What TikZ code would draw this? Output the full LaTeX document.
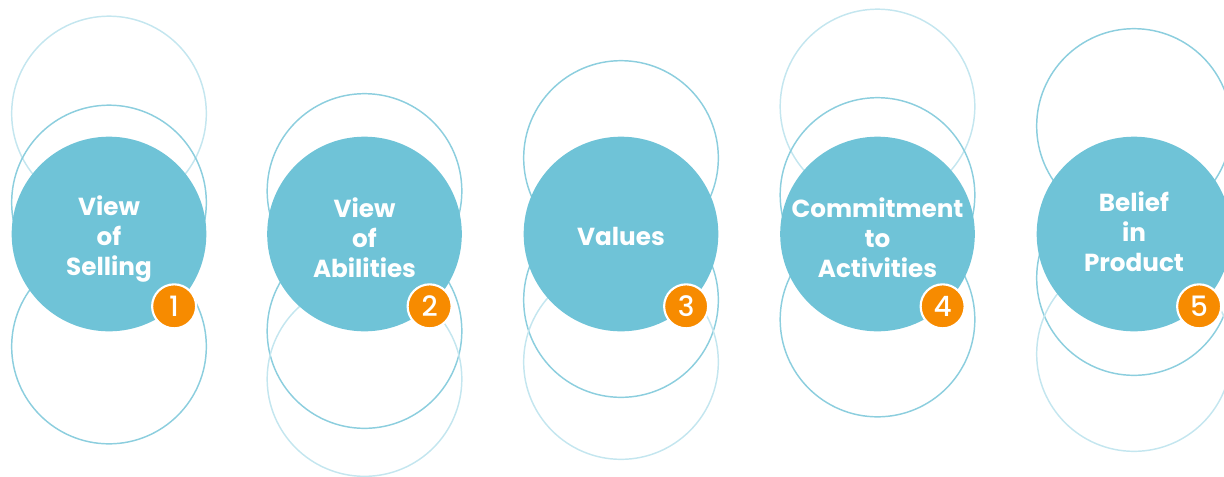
\documentclass[tikz,border=0pt]{standalone}
\usepackage{fontspec}
\setmainfont{Poppins}
\newfontfamily\badgefont{Poppins}[UprightFont=* Medium]
\usepackage{tikz}
\usetikzlibrary{positioning}

\definecolor{tealfill}{HTML}{6FC3D7}
\definecolor{ringdark}{HTML}{8CCEDE}
\definecolor{ringlight}{HTML}{C4E6EF}
\definecolor{badgeorange}{HTML}{F78B00}

\begin{document}
\begin{tikzpicture}[x=0.75pt, y=-0.75pt]
	\tikzset{
	  RingStyle/.style = { circle, draw, line width = 1.1pt, minimum size = 146pt, inner sep = 0pt },
	  RingDark/.style = { RingStyle, draw = ringdark },
	  RingLight/.style = { RingStyle, draw = ringlight },
	  MainStyle/.style = { circle, fill = tealfill, minimum size = 146pt, inner sep = 0pt,
	                       outer sep = 0pt },
	  LabelStyle/.style = { text = white, align = center, inner sep = 0pt,
	                        font = \fontsize{18.5}{22.5}\selectfont\bfseries },
	  BadgeStyle/.style = { circle, fill = badgeorange, draw = white, line width = 1.6pt,
	                        minimum size = 33pt, inner sep = 0pt, text = white,
	                        font = \fontsize{21}{22}\selectfont\badgefont } }
	\useasboundingbox (0,0) rectangle (1224,476);
%	\draw[help lines] (0,0) grid (1224,476);
	% outline rings
	\node[RingLight] (r1a) at (109,113.5) {};
	\node[RingDark]  (r1b) at (109,202.5) {};
	\node[RingDark]  (r1c) at (109,346.5) {};
	\node[RingDark]  (r2a) at (364.5,191) {};
	\node[RingDark]  (r2b) at (364.5,331) {};
	\node[RingLight] (r2c) at (364.5,379) {};
	\node[RingDark]  (r3a) at (621,158) {};
	\node[RingDark]  (r3b) at (621,300) {};
	\node[RingLight] (r3c) at (621,362) {};
	\node[RingLight] (r4a) at (877.5,106.5) {};
	\node[RingDark]  (r4b) at (877.5,195) {};
	\node[RingDark]  (r4c) at (877.5,319.5) {};
	\node[RingDark]  (r5a) at (1134,126) {};
	\node[RingDark]  (r5b) at (1134,278) {};
	\node[RingLight] (r5c) at (1134,354) {};
	% main circles
	\node[MainStyle] (selling) at (109,234) {};
	\node[MainStyle] (abilities) at (364.5,234) {};
	\node[MainStyle] (values) at (621,234) {};
	\node[MainStyle] (activities) at (877.5,234) {};
	\node[MainStyle] (product) at (1134,234) {};
	% labels
	\node[LabelStyle] (t1) at ([yshift=-3.5pt]selling.center) {View\\of\\Selling};
	\node[LabelStyle] (t2) at ([yshift=-3pt]abilities.center) {View\\of\\Abilities};
	\node[LabelStyle] (t3) at ([yshift=-1.5pt]values.center) {Values};
	\node[LabelStyle] (t4) at ([yshift=-3pt]activities.center) {Commitment\\to\\Activities};
	\node[LabelStyle] (t5) at ([yshift=2pt]product.center) {Belief\\in\\Product};
	% badges
	\node[BadgeStyle] (b1) at (selling.-48) {1};
	\node[BadgeStyle] (b2) at (abilities.-48) {2};
	\node[BadgeStyle] (b3) at (values.-48) {3};
	\node[BadgeStyle] (b4) at (activities.-48) {4};
	\node[BadgeStyle] (b5) at (product.-48) {5};
\end{tikzpicture}
\end{document}
